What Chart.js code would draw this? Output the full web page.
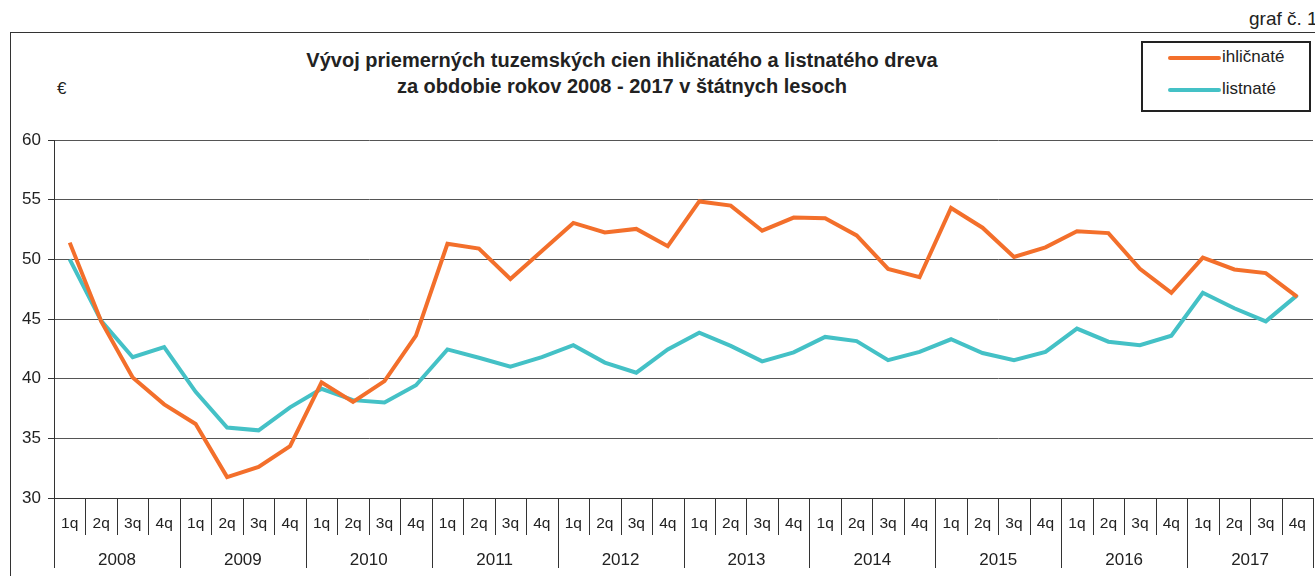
<!DOCTYPE html>
<html>
<head>
<meta charset="utf-8">
<script src="https://cdn.jsdelivr.net/npm/chart.js@4.4.0/dist/chart.umd.min.js"></script>
<style>
  body { margin:0; width:1315px; height:576px; overflow:hidden; background:#fff; position:relative;
         font-family:"Liberation Sans", Arial, sans-serif; color:#222; }
  #frame { position:absolute; left:10px; top:32px; width:1320px; height:560px;
           border-left:1px solid #333; border-top:1px solid #333; }
  #graf { position:absolute; left:1249px; top:8px; font-size:19px; white-space:nowrap; }
  #title { position:absolute; left:172px; width:900px; top:47px; text-align:center;
           font-weight:bold; font-size:20px; line-height:26px; }
  #euro { position:absolute; left:57px; top:79px; font-size:17px; }
  #legend { position:absolute; left:1141px; top:41px; width:166px; height:67px; border:2px solid #222; }
  .lg { position:absolute; left:25px; font-size:17px; white-space:nowrap; }
  .lg span.sw { display:inline-block; width:53px; height:4px; border-radius:2px; vertical-align:middle; margin-right:1px; }
  canvas { position:absolute; left:0; top:0; }
</style>
</head>
<body>
<div id="frame"></div>
<div id="graf">graf č. 1</div>
<div id="title">Vývoj priemerných tuzemských cien ihličnatého a listnatého dreva<br>za obdobie rokov 2008 - 2017 v štátnych lesoch</div>
<div id="euro">€</div>
<div id="legend"></div>
<canvas id="myChart" width="1315" height="576"></canvas>
<script>
var years = ["2008","2009","2010","2011","2012","2013","2014","2015","2016","2017"];
var quarters = ["1q","2q","3q","4q"];
var seriesNames = ["ihličnaté", "listnaté"];
var seriesColors = ["#f36f2b", "#44c1c6"];

var ihlicnate = [51.4, 44.8, 40.1, 37.85, 36.2, 31.75, 32.6, 34.35, 39.7, 38.05,
                 39.8, 43.6, 51.3, 50.9, 48.35, 50.7, 53.05, 52.25, 52.55, 51.1,
                 54.85, 54.5, 52.4, 53.5, 53.45, 52.0, 49.2, 48.5, 54.3, 52.65,
                 50.2, 51.0, 52.35, 52.2, 49.2, 47.2, 50.15, 49.15, 48.85, 46.85];
var listnate = [50.0, 44.85, 41.8, 42.65, 38.9, 35.9, 35.67, 37.6, 39.15, 38.2,
                38.0, 39.45, 42.45, 41.75, 41.0, 41.8, 42.8, 41.35, 40.5, 42.45,
                43.85, 42.75, 41.45, 42.2, 43.5, 43.15, 41.55, 42.25, 43.3, 42.15,
                41.55, 42.25, 44.2, 43.1, 42.8, 43.6, 47.2, 45.9, 44.8, 47.0];
var yTicks = [30, 35, 40, 45, 50, 55, 60];

var xValues = [];
years.forEach(function(y){ quarters.forEach(function(q){ xValues.push(q); }); });

// legend box
var lg = document.getElementById("legend");
seriesNames.forEach(function(n, i){
  var d = document.createElement("div");
  d.className = "lg";
  d.style.top = (4 + i*32) + "px";
  d.innerHTML = '<span class="sw" style="background:' + seriesColors[i] + '"></span>' + n;
  lg.appendChild(d);
});

// vertical separators under the x axis
var separators = {
  id: "separators",
  afterDraw: function(chart){
    var xs = chart.scales.x;
    var ctx = chart.ctx;
    var n = xValues.length;
    var step = xs.width / n;
    ctx.save();
    ctx.strokeStyle = "#333";
    ctx.lineWidth = 1;
    for (var i = 0; i <= n; i++) {
      var x = Math.round(xs.getPixelForValue(Math.min(i, n-1)) + (i < n ? -step/2 : step/2)) + 0.5;
      var y2 = (i % 4 === 0) ? 568 : 535;
      ctx.beginPath();
      ctx.moveTo(x, chart.chartArea.bottom);
      ctx.lineTo(x, y2);
      ctx.stroke();
    }
    ctx.restore();
  }
};

new Chart("myChart", {
  type: "line",
  data: {
    labels: xValues,
    datasets: [{
      label: seriesNames[0],
      data: ihlicnate,
      borderColor: seriesColors[0],
      borderWidth: 4,
      pointRadius: 0,
      tension: 0
    }, {
      label: seriesNames[1],
      data: listnate,
      borderColor: seriesColors[1],
      borderWidth: 4,
      pointRadius: 0,
      tension: 0
    }]
  },
  options: {
    responsive: false,
    animation: false,
    layout: { padding: { top: 140, right: 2, left: 0, bottom: 0 } },
    plugins: {
      legend: { display: false },
      tooltip: { enabled: false }
    },
    scales: {
      x: {
        offset: true,
        grid: { display: false },
        border: { display: true, color: "#333" },
        ticks: { color: "#222", font: { family: "Liberation Sans", size: 15.5 }, padding: 8, maxRotation: 0, autoSkip: false },
        afterFit: function(s){ s.height = 36; }
      },
      x2: {
        type: "category",
        position: "bottom",
        labels: years,
        offset: true,
        grid: { display: false },
        border: { display: false },
        ticks: { color: "#222", font: { family: "Liberation Sans", size: 17 }, padding: 8, maxRotation: 0 },
        afterFit: function(s){ s.height = 42; }
      },
      y: {
        min: 30,
        max: 60,
        afterBuildTicks: function(s){ s.ticks = yTicks.map(function(v){ return { value: v }; }); },
        grid: { color: "#555", tickLength: 6, tickColor: "#333" },
        border: { display: true, color: "#333" },
        ticks: { color: "#222", font: { family: "Liberation Sans", size: 17 }, padding: 7 },
        afterFit: function(s){ s.width = 54; }
      }
    }
  },
  plugins: [separators]
});
</script>
</body>
</html>
